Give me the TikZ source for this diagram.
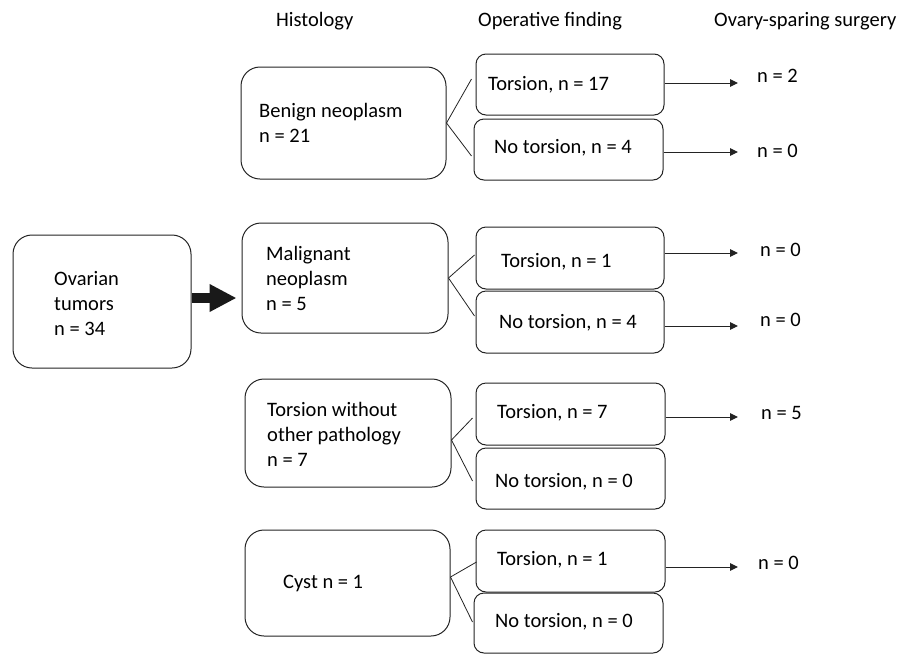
\documentclass[tikz,border=0pt]{standalone}
\usepackage{fontspec}
\setmainfont{Carlito}
\usetikzlibrary{arrows.meta}
\definecolor{lncol}{RGB}{35,35,35}
\tikzset{
  box/.style={draw=lncol, line width=1pt, rounded corners=10pt, inner sep=0pt},
  bigbox/.style={box, rounded corners=19pt},
  txt/.style={anchor=west, inner sep=0pt, align=left, text=black,
    font=\fontsize{20.5}{25}\selectfont},
  branch/.style={draw=lncol, line width=0.8pt},
  arr/.style={draw=lncol, line width=1pt, -{Triangle[length=8pt,width=7.5pt]}},
  fatarr/.style={draw=black!90, line width=10pt, -{Triangle[length=27pt,width=26pt]}}
}
\begin{document}
\begin{tikzpicture}[x=1pt,y=-1pt]
\useasboundingbox (0,0) rectangle (910,654);

% headers
\node[txt] (h1) at (276,21) {Histology};
\node[txt] (h2) at (478,21) {Operative finding};
\node[txt] (h3) at (714,21) {Ovary-sparing surgery};

% left box
\node[bigbox, minimum width=178pt, minimum height=133pt] (ovar) at (102,301.5) {};
\node[txt] (ovart) at (54,303.5) {Ovarian\\tumors\\n = 34};

% histology boxes
\node[bigbox, minimum width=205pt, minimum height=112pt] (ben) at (343.5,123) {};
\node[txt] (bent) at (259,122.5) {Benign neoplasm\\n = 21};
\node[bigbox, minimum width=206pt, minimum height=110pt] (mal) at (345,278) {};
\node[txt] (malt) at (266,278) {Malignant\\neoplasm\\n = 5};
\node[bigbox, minimum width=206pt, minimum height=108pt] (tw) at (348,433) {};
\node[txt] (twt) at (267,434) {Torsion without\\other pathology\\n = 7};
\node[bigbox, minimum width=205pt, minimum height=106pt] (cyst) at (347.5,583) {};
\node[txt] (cystt) at (283,583) {Cyst n = 1};

% operative finding boxes
\node[box, minimum width=188pt, minimum height=61pt] (t1) at (570,84.5) {};
\node[txt] (t1t) at (488,85) {Torsion, n = 17};
\node[box, minimum width=189pt, minimum height=61pt] (n1) at (568.5,149.5) {};
\node[txt] (n1t) at (494,148) {No torsion, n = 4};
\node[box, minimum width=188pt, minimum height=62pt] (t2) at (570,258) {};
\node[txt] (t2t) at (501,262) {Torsion, n = 1};
\node[box, minimum width=188pt, minimum height=62pt] (n2) at (570,322) {};
\node[txt] (n2t) at (499,323) {No torsion, n = 4};
\node[box, minimum width=189pt, minimum height=62pt] (t3) at (570.5,414) {};
\node[txt] (t3t) at (497,413) {Torsion, n = 7};
\node[box, minimum width=189pt, minimum height=61pt] (n3) at (570.5,478.5) {};
\node[txt] (n3t) at (495,482) {No torsion, n = 0};
\node[box, minimum width=189pt, minimum height=62pt] (t4) at (570.5,561) {};
\node[txt] (t4t) at (497,560) {Torsion, n = 1};
\node[box, minimum width=189pt, minimum height=60pt] (n4) at (568.5,623) {};
\node[txt] (n4t) at (495,622) {No torsion, n = 0};

% outcome labels
\node[txt] (o1) at (757,76) {n = 2};
\node[txt] (o2) at (757,151) {n = 0};
\node[txt] (o3) at (760,250) {n = 0};
\node[txt] (o4) at (760,320) {n = 0};
\node[txt] (o5) at (761,413) {n = 5};
\node[txt] (o6) at (758,563) {n = 0};

% arrow ends
\coordinate (e1) at (738,83);
\coordinate (e2) at (738,152);
\coordinate (e3) at (738,253);
\coordinate (e4) at (738,326);
\coordinate (e5) at (738,417);
\coordinate (e6) at (738,567);

% big arrow
\draw[fatarr] ([yshift=3.5pt]ovar.east) -- ([yshift=3.5pt]ovar.east -| mal.west) [shorten >=5pt];

% branches
\draw[branch] (ben.east) -- ([shift={(-4,-5.5)}]t1.west);
\draw[branch] (ben.east) -- ([shift={(-2,6.5)}]n1.west);
\draw[branch] (mal.east) -- ([shift={(-1,-3)}]t2.west);
\draw[branch] (mal.east) -- ([shift={(-1,-6)}]n2.west);
\draw[branch] ([yshift=-7pt]tw.east) -- ([shift={(-3,4)}]t3.west);
\draw[branch] ([yshift=-7pt]tw.east) -- ([shift={(-3,2.5)}]n3.west);
\draw[branch] ([yshift=6pt]cyst.east) -- ([shift={(1,1)}]t4.west);
\draw[branch] ([yshift=6pt]cyst.east) -- ([shift={(-1,-1)}]n4.west);

% outcome arrows
\draw[arr] (t1.east |- e1) -- (e1);
\draw[arr] (n1.east |- e2) -- (e2);
\draw[arr] (t2.east |- e3) -- (e3);
\draw[arr] (n2.east |- e4) -- (e4);
\draw[arr] (t3.east |- e5) -- (e5);
\draw[arr] (t4.east |- e6) -- (e6);
\end{tikzpicture}
\end{document}
